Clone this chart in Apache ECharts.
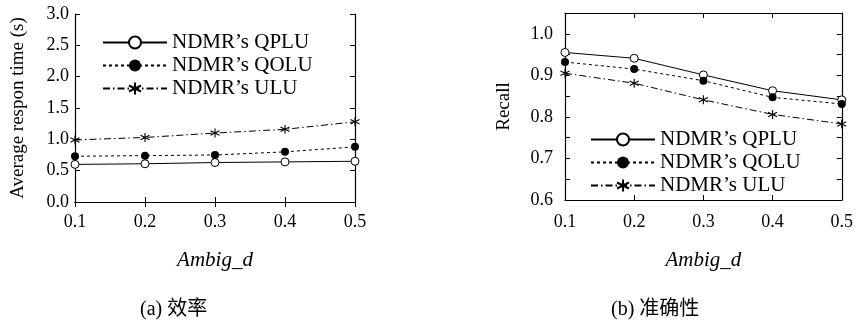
<!DOCTYPE html>
<html>
<head>
<meta charset="utf-8">
<script src="https://cdn.jsdelivr.net/npm/echarts@6/dist/echarts.min.js"></script>
<style>
  html, body { margin: 0; padding: 0; background: #fff; }
  #chart { width: 856px; height: 320px; }
</style>
</head>
<body>
<div id="chart"></div>
<script>
// Ambig_d settings on the x axis
const ambigD = ['0.1', '0.2', '0.3', '0.4', '0.5'];

// (a) average response time in seconds
const respQPLU = [0.60, 0.61, 0.63, 0.64, 0.65];
const respQOLU = [0.73, 0.74, 0.75, 0.80, 0.88];
const respULU  = [0.99, 1.03, 1.10, 1.16, 1.28];

// (b) recall
const recallQPLU = [0.955, 0.941, 0.901, 0.863, 0.841];
const recallQOLU = [0.932, 0.915, 0.887, 0.847, 0.831];
const recallULU  = [0.905, 0.881, 0.841, 0.806, 0.783];

const seriesNames = ['NDMR’s QPLU', 'NDMR’s QOLU', 'NDMR’s ULU'];
const captions = ['(a) 效率', '(b) 准确性'];

const SERIF = '"Liberation Serif", "Times New Roman", "Noto Sans CJK SC", serif';
const INK = '#000';
const asterisk = 'path://M0,-5L0,5M-4.33,-2.5L4.33,2.5M-4.33,2.5L4.33,-2.5';

// open circle (white fill, thin ring), filled dot, asterisk
const styles = [
  { symbol: 'circle', symbolSize: 8, lineType: 'solid',
    item: { color: '#fff', borderColor: INK, borderWidth: 1 } },
  { symbol: 'circle', symbolSize: 8, lineType: [3, 3],
    item: { color: INK, borderColor: INK, borderWidth: 0 } },
  { symbol: asterisk, symbolSize: 9, lineType: [7, 3, 1.5, 3],
    item: { color: INK, borderColor: INK, borderWidth: 1.1 } }
];

function makeSeries(values, idx, axisIdx) {
  const s = styles[idx];
  return {
    name: seriesNames[idx],
    type: 'line',
    xAxisIndex: axisIdx * 2,
    yAxisIndex: axisIdx * 2,
    data: values,
    symbol: s.symbol,
    symbolSize: s.symbolSize,
    showAllSymbol: true,
    silent: true,
    animation: false,
    lineStyle: { color: INK, width: 1, type: s.lineType },
    itemStyle: s.item
  };
}

function xAxes(gridIndex, nameGap, labelMargin) {
  const common = {
    type: 'category', gridIndex, data: ambigD, boundaryGap: false,
    axisLine: { lineStyle: { color: INK, width: 1.2 } },
    axisTick: { inside: true, length: 5, lineStyle: { color: INK } },
    splitLine: { show: false }
  };
  return [
    Object.assign({}, common, {
      position: 'bottom',
      name: 'Ambig_d', nameLocation: 'middle', nameGap,
      nameTextStyle: { fontFamily: SERIF, fontStyle: 'italic', fontSize: 21, color: INK },
      axisLabel: { fontFamily: SERIF, fontSize: 18, color: INK, margin: labelMargin }
    }),
    Object.assign({}, common, { position: 'top', axisLabel: { show: false } })
  ];
}

function yAxes(gridIndex, min, max, interval, name, nameGap, labelMargin, fmt) {
  const common = {
    type: 'value', gridIndex, min, max, interval,
    axisLine: { show: true, lineStyle: { color: INK, width: 1.2 } },
    axisTick: { show: true, inside: true, length: 5, lineStyle: { color: INK } },
    splitLine: { show: false }
  };
  return [
    Object.assign({}, common, {
      position: 'left',
      name, nameLocation: 'middle', nameGap,
      nameTextStyle: { fontFamily: SERIF, fontSize: 19, color: INK },
      axisLabel: { fontFamily: SERIF, fontSize: 18, color: INK, margin: labelMargin, formatter: fmt }
    }),
    Object.assign({}, common, { position: 'right', axisLabel: { show: false } })
  ];
}

function legendAt(left, top) {
  return {
    orient: 'vertical', left, top,
    data: seriesNames,
    itemWidth: 64, itemHeight: 15, itemGap: 2,
    selectedMode: false,
    textStyle: { fontFamily: SERIF, fontSize: 21, color: INK, lineHeight: 20 },
    inactiveColor: INK
  };
}

const chart = echarts.init(document.getElementById('chart'), null, { renderer: 'canvas' });

chart.setOption({
  backgroundColor: '#fff',
  animation: false,
  title: [
    { text: captions[0], left: 135, top: 295,
      textStyle: { fontFamily: SERIF, fontSize: 20, fontWeight: 'normal', color: INK } },
    { text: captions[1], left: 606, top: 295,
      textStyle: { fontFamily: SERIF, fontSize: 20, fontWeight: 'normal', color: INK } }
  ],
  legend: [legendAt(97, 27), legendAt(585, 124)],
  grid: [
    { left: 75, top: 14, width: 280, height: 188 },
    { left: 565, top: 13, width: 278, height: 187 }
  ],
  xAxis: [].concat(xAxes(0, 48, 11), xAxes(1, 50, 13)),
  yAxis: [].concat(
    yAxes(0, 0, 3, 0.5, 'Average respon time (s)', 47, 6, v => v.toFixed(1)),
    yAxes(1, 0.6, 1.05, 0.05, 'Recall', 51, 12,
      v => (Math.round(v * 100) % 10 === 0 ? v.toFixed(1) : ''))
  ),
  series: [
    makeSeries(respQPLU, 0, 0),
    makeSeries(respQOLU, 1, 0),
    makeSeries(respULU, 2, 0),
    makeSeries(recallQPLU, 0, 1),
    makeSeries(recallQOLU, 1, 1),
    makeSeries(recallULU, 2, 1)
  ]
});
</script>
</body>
</html>
